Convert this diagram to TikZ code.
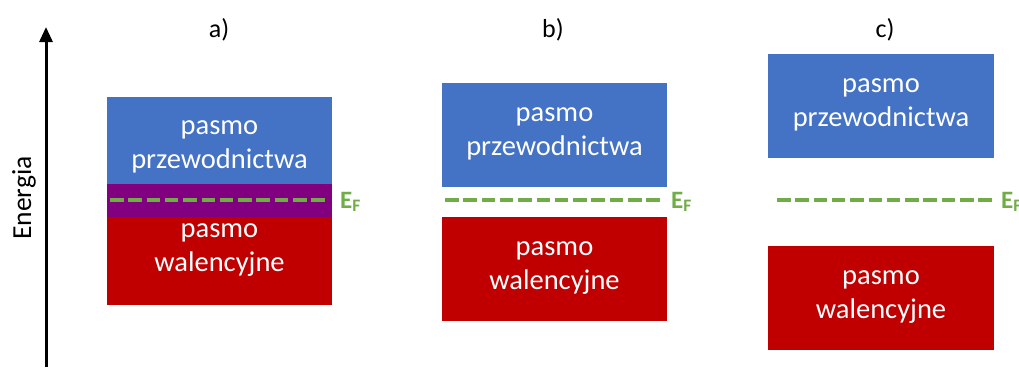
\documentclass[tikz,border=0pt]{standalone}
\usepackage{fontspec}
\setmainfont{Carlito}
\usetikzlibrary{arrows.meta}
\definecolor{cband}{HTML}{4472C4}
\definecolor{vband}{HTML}{C00000}
\definecolor{mband}{HTML}{800080}
\definecolor{fermi}{HTML}{70AD47}
\begin{document}
\begin{tikzpicture}[x=1pt,y=-1pt,
  band/.style={draw=none,inner sep=0pt,anchor=north west},
  bandtext/.style={text=white,align=center,font=\fontsize{28.5}{34}\selectfont,inner sep=0pt},
  fermiline/.style={draw=fermi,line width=4pt,dash pattern=on 13.5pt off 4.8pt},
  fermilabel/.style={text=fermi,font=\fontsize{25}{30}\selectfont\bfseries,anchor=west,inner sep=0pt},
  panel/.style={font=\fontsize{26}{30}\selectfont,inner sep=0pt}]
\useasboundingbox (0,0) rectangle (1019,367);
% axis
\coordinate (axb) at (46,367);
\coordinate (axt) at (46,27);
\draw[line width=3pt,-{Triangle[length=15pt,width=13pt]}] (axb) -- (axt);
\node[panel,rotate=90,font=\fontsize{27.5}{30}\selectfont] (energia) at (24,198) {Energia};
% panel labels
\node[panel] (la) at (219,30) {a)};
\node[panel] (lb) at (553,30) {b)};
\node[panel] (lc) at (885,30) {c)};
% a)
\node[band,fill=cband,minimum width=225pt,minimum height=87pt] (ca) at (107,97) {};
\node[band,fill=mband,minimum width=225pt,minimum height=33pt] (ma) at (107,184) {};
\node[band,fill=vband,minimum width=225pt,minimum height=88pt] (va) at (107,217) {};
\node[bandtext] (tca) at (219.5,147) {pasmo\\przewodnictwa};
\node[bandtext] (tva) at (219.5,250) {pasmo\\walencyjne};
\coordinate (fa1) at (110,200);
\coordinate (fa2) at (329,200);
\draw[fermiline] (fa1) -- (fa2);
\node[fermilabel] (efa) at (340,202) {E\textsubscript{F}};
% b)
\node[band,fill=cband,minimum width=225pt,minimum height=104pt] (cb) at (442,83) {};
\node[band,fill=vband,minimum width=225pt,minimum height=104pt] (vb) at (442,217) {};
\node[bandtext] (tcb) at (554.5,134) {pasmo\\przewodnictwa};
\node[bandtext] (tvb) at (554.5,268) {pasmo\\walencyjne};
\coordinate (fb1) at (445,200);
\coordinate (fb2) at (661,200);
\draw[fermiline] (fb1) -- (fb2);
\node[fermilabel] (efb) at (671,202) {E\textsubscript{F}};
% c)
\node[band,fill=cband,minimum width=226pt,minimum height=104pt] (cc) at (768,54) {};
\node[band,fill=vband,minimum width=226pt,minimum height=104pt] (vc) at (768,246) {};
\node[bandtext] (tcc) at (881,105) {pasmo\\przewodnictwa};
\node[bandtext] (tvc) at (881,297) {pasmo\\walencyjne};
\coordinate (fc1) at (777,200);
\coordinate (fc2) at (994,200);
\draw[fermiline] (fc1) -- (fc2);
\node[fermilabel] (efc) at (1001,202) {E\textsubscript{F}};
\end{tikzpicture}
\end{document}
